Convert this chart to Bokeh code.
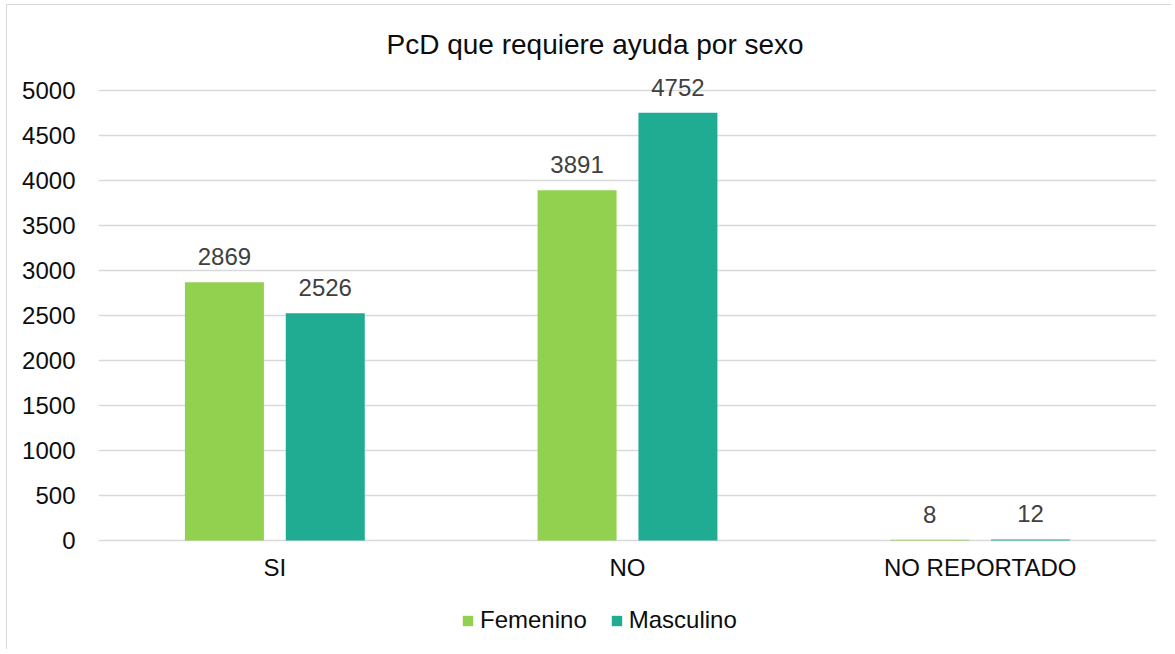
from bokeh.plotting import figure
from bokeh.models import ColumnDataSource, LabelSet, Legend, LegendItem, FactorRange, Title
from bokeh.transform import dodge
from bokeh.core.properties import value
from bokeh.embed import file_html
from bokeh.resources import INLINE

categories = ["SI", "NO", "NO REPORTADO"]
femenino = [2869, 3891, 8]
masculino = [2526, 4752, 12]
series_names = ["Femenino", "Masculino"]
y_ticks = list(range(0, 5001, 500))

FONT = "Liberation Sans"
C_F = "#92D050"
C_M = "#20AB93"

src = ColumnDataSource(dict(cat=categories, f=femenino, m=masculino,
                            fl=[str(v) for v in femenino], ml=[str(v) for v in masculino]))

p = figure(x_range=FactorRange(*categories), y_range=(-1155, 5300),
           width=1165, height=645, output_backend="svg", toolbar_location=None,
           x_axis_location=None,
           min_border_left=91, min_border_right=16, min_border_top=58, min_border_bottom=6,
           styles={"margin-left": "6px", "margin-top": "4px",
                   "border-left": "1px solid #d9d9d9", "border-top": "1px solid #d9d9d9"})
p.outline_line_color = None
p.background_fill_color = "white"
p.border_fill_color = "white"

p.title = Title(text="PcD que requiere ayuda por sexo", align="left", offset=288,
                standoff=8, text_font=FONT, text_font_size="28px",
                text_font_style="normal", text_color="#0d0d0d")

bw = 0.224
off = 0.143
rf = p.vbar(x=dodge("cat", -off, range=p.x_range), top="f", width=bw, source=src,
            fill_color=C_F, line_color=None)
rm = p.vbar(x=dodge("cat", off, range=p.x_range), top="m", width=bw, source=src,
            fill_color=C_M, line_color=None)

for col, lab, o in (("f", "fl", -off), ("m", "ml", off)):
    p.add_layout(LabelSet(x=dodge("cat", o, range=p.x_range), y=col, text=lab, source=src,
                          y_offset=17, text_align="center", text_baseline="alphabetic",
                          text_font=value(FONT), text_font_size=value("24px"),
                          text_color=value("#404040")))

# category labels under the zero line
p.add_layout(LabelSet(x="cat", y=0, text="cat", source=src, y_offset=-13,
                      text_align="center", text_baseline="top",
                      text_font=value(FONT), text_font_size=value("24px"),
                      text_color=value("#0d0d0d")))

# y axis
p.yaxis.ticker = y_ticks
p.yaxis.axis_line_color = None
p.yaxis.major_tick_line_color = None
p.yaxis.minor_tick_line_color = None
p.yaxis.major_tick_out = 0
p.yaxis.major_tick_in = 0
p.yaxis.major_label_standoff = 23
p.yaxis.major_label_text_font = FONT
p.yaxis.major_label_text_font_size = "24px"
p.yaxis.major_label_text_color = "#0d0d0d"

p.xgrid.grid_line_color = None
p.ygrid.ticker = y_ticks
p.ygrid.grid_line_color = "#d9d9d9"
p.ygrid.grid_line_width = 1.5

legend = Legend(items=[LegendItem(label=series_names[0], renderers=[rf]),
                       LegendItem(label=series_names[1], renderers=[rm])],
                orientation="horizontal", location=(363, 10),
                glyph_width=13, glyph_height=13, label_standoff=6, spacing=23,
                padding=0, margin=0, border_line_color=None, background_fill_alpha=0,
                label_text_font=FONT, label_text_font_size="24px", label_text_color="#0d0d0d")
p.add_layout(legend, "center")

open("out.html", "w").write(file_html(p, INLINE))
